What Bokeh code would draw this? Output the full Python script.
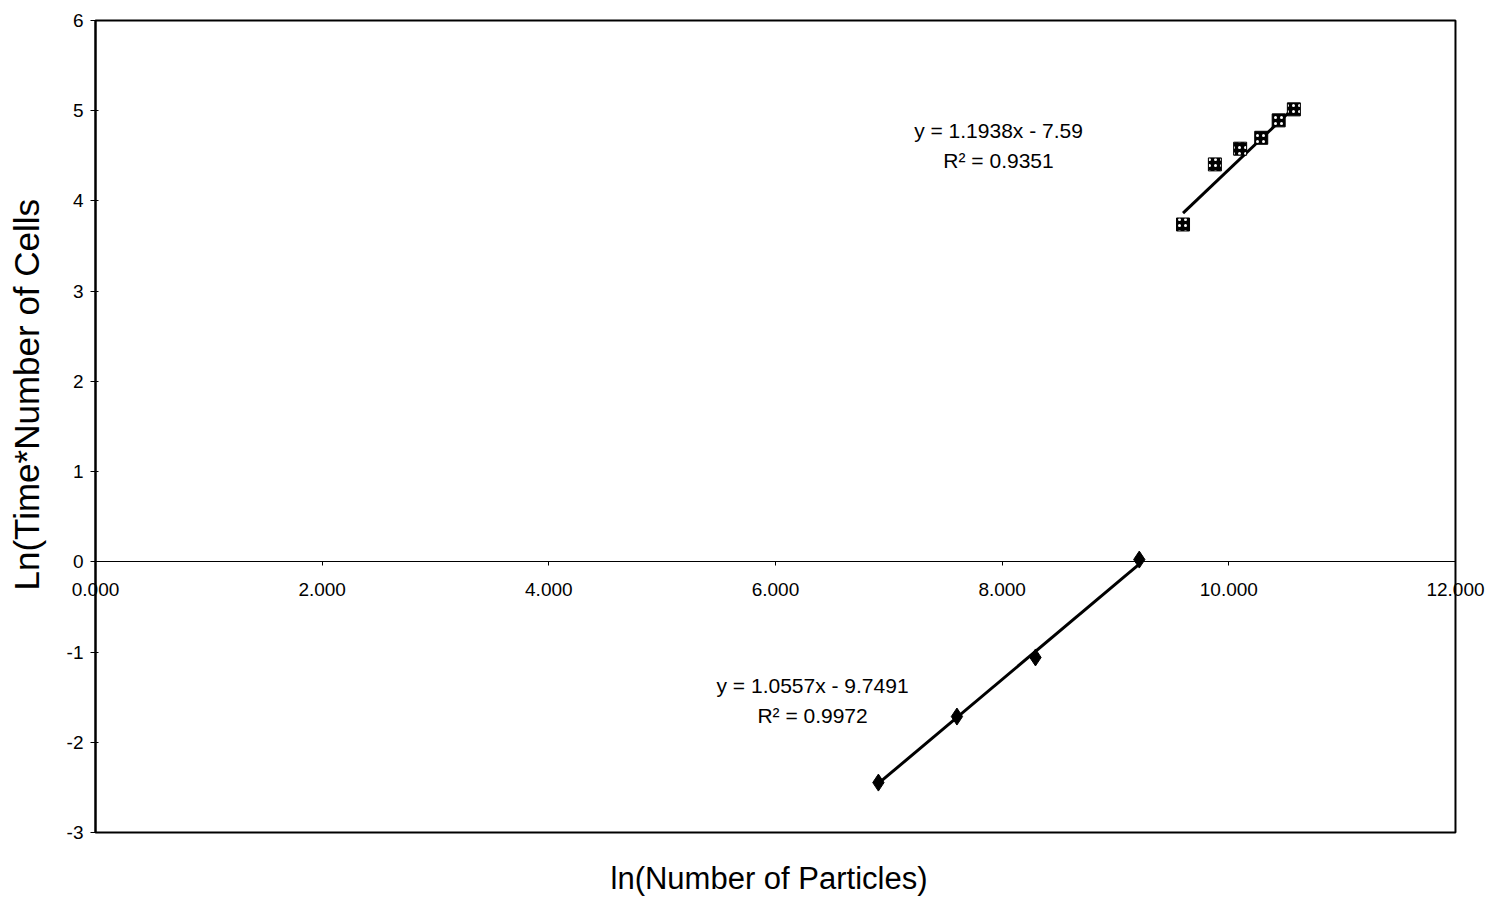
from bokeh.plotting import figure
from bokeh.models import LinearAxis, FixedTicker, NumeralTickFormatter, Title, Range1d, Label, BoxAnnotation
from bokeh.embed import file_html
from bokeh.resources import INLINE

# Data
x_small = [6.908, 7.601, 8.294, 9.210]
y_small = [-2.447, -1.715, -1.060, 0.025]
x_large = [9.596, 9.877, 10.100, 10.286, 10.440, 10.574]
y_large = [3.739, 4.405, 4.579, 4.700, 4.893, 5.015]

fit_small = (1.0557, -9.7491)
fit_large = (1.1938, -7.59)
eq_small = ["y = 1.0557x - 9.7491", "R\u00b2 = 0.9972"]
eq_large = ["y = 1.1938x - 7.59", "R\u00b2 = 0.9351"]

x_ticks = [0, 2, 4, 6, 8, 10, 12]
y_ticks = [-3, -2, -1, 0, 1, 2, 3, 4, 5, 6]
x_lim = (0, 12)
y_lim = (-3, 6)

FONT = "Liberation Sans"
TICK_FS = "19px"

# The frame is a little larger than the plotting box so that the tick labels
# at the box edges are not clipped; the box itself is drawn as an annotation.
p = figure(width=1492, height=897, output_backend="svg", toolbar_location=None,
           x_range=Range1d(-0.4235, 12.309), y_range=Range1d(-3.111, 6.133),
           x_axis_type=None, y_axis_type=None,
           min_border_left=47, min_border_right=2,
           min_border_top=8, min_border_bottom=55)
p.outline_line_color = None
p.background_fill_color = "white"
p.border_fill_color = "white"

p.ygrid.ticker = FixedTicker(ticks=y_ticks)
p.ygrid.grid_line_color = "black"
p.ygrid.grid_line_width = 1
p.ygrid.bounds = x_lim
p.xgrid.grid_line_color = None

# plot box
p.add_layout(BoxAnnotation(left=x_lim[0], right=x_lim[1], bottom=y_lim[0], top=y_lim[1],
                           fill_color=None, fill_alpha=0, line_color="black", line_alpha=1,
                           line_width=2, level="underlay"))

# y axis at x = 0
yax = LinearAxis(fixed_location=x_lim[0], ticker=FixedTicker(ticks=y_ticks),
                 formatter=NumeralTickFormatter(format="0"), bounds=y_lim)
yax.major_label_text_font = FONT
yax.major_label_text_font_size = TICK_FS
yax.major_label_text_color = "black"
yax.major_label_standoff = 7
yax.axis_line_color = "black"
yax.axis_line_width = 2
yax.major_tick_in = 3
yax.major_tick_out = 5
yax.major_tick_line_color = "black"
yax.minor_tick_line_color = None
p.add_layout(yax, "left")

# x axis crossing at y = 0
xax = LinearAxis(fixed_location=0, ticker=FixedTicker(ticks=x_ticks),
                 formatter=NumeralTickFormatter(format="0.000"), bounds=x_lim)
xax.axis_line_color = "black"
xax.axis_line_width = 1
xax.major_tick_in = 0
xax.major_tick_out = 4
xax.major_tick_line_color = "black"
xax.minor_tick_line_color = None
xax.major_label_text_font = FONT
xax.major_label_text_font_size = TICK_FS
xax.major_label_text_color = "black"
xax.major_label_standoff = 17
p.add_layout(xax, "below")

p.add_layout(Title(text="Ln(Time*Number of Cells", align="left", offset=252,
                   text_font=FONT, text_font_size="35px", text_font_style="normal",
                   text_color="black", standoff=4), "left")

# small empty spacer, then the x title
p.add_layout(Title(text=" ", text_font=FONT, text_font_size="12px", standoff=0), "below")
p.add_layout(Title(text="ln(Number of Particles)", align="center",
                   text_font=FONT, text_font_size="31px", text_font_style="normal",
                   text_color="black", standoff=0), "below")

# trend lines
def trend(xs, fit):
    x0, x1 = min(xs), max(xs)
    return [x0, x1], [fit[0] * x0 + fit[1], fit[0] * x1 + fit[1]]

tx, ty = trend(x_small, fit_small)
p.line(tx, ty, line_color="black", line_width=3)
tx, ty = trend(x_large, fit_large)
p.line(tx, ty, line_color="black", line_width=3)

p.scatter(x_small, y_small, marker="diamond", size=17, fill_color="black", line_color="black")
p.scatter(x_large, y_large, marker="square", size=13, fill_color="black", line_color="black",
          hatch_pattern="dot", hatch_color="white", hatch_scale=6, hatch_weight=1)

for i, t in enumerate(eq_large):
    p.add_layout(Label(x=7.968, y=[4.78, 4.45][i], text=t, text_align="center", text_baseline="middle",
                       text_font=FONT, text_font_size="21px", text_color="black"))
for i, t in enumerate(eq_small):
    p.add_layout(Label(x=6.327, y=[-1.371, -1.704][i], text=t, text_align="center", text_baseline="middle",
                       text_font=FONT, text_font_size="21px", text_color="black"))

open("out.html", "w").write(file_html(p, INLINE))
